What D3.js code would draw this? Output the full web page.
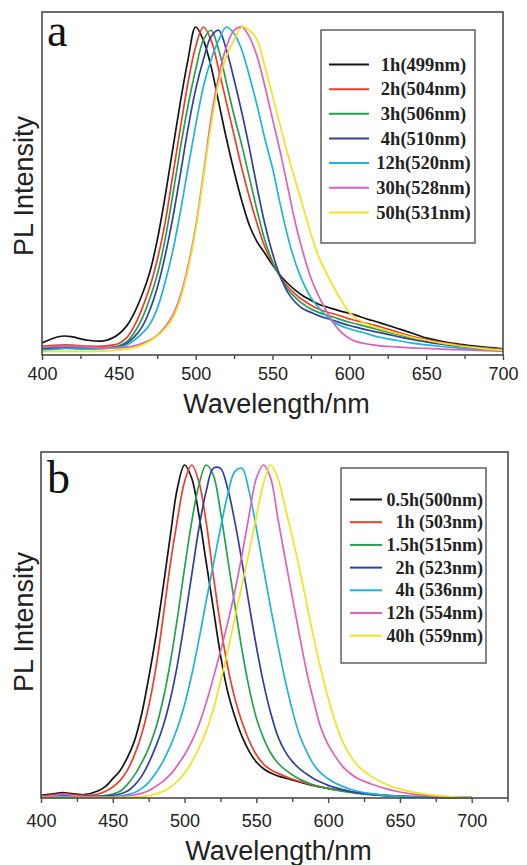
<!DOCTYPE html>
<html>
<head>
<meta charset="utf-8">
<script src="https://cdn.jsdelivr.net/npm/d3@7"></script>
<style>
  body { margin: 0; background: #fff; }
  svg { display: block; }
  .tick text { font-family: "Liberation Sans", Arial, sans-serif; font-size: 18px; fill: #222; }
  .axis-title { font-family: "Liberation Sans", Arial, sans-serif; font-size: 27px; fill: #222; }
  .panel-tag { font-family: "Liberation Serif", "Times New Roman", serif; font-size: 46px; fill: #111; }
  .legend text { font-family: "Liberation Serif", "Times New Roman", serif; font-weight: bold; fill: #222; }
</style>
</head>
<body>
<svg id="chart" width="527" height="865"></svg>
<script>
// wavelength grid (nm) shared by every spectrum below
const wavelengths = [400, 410, 415, 420, 430, 440, 445, 450, 455, 460,
  465, 470, 475, 480, 485, 490, 495, 500, 505, 510,
  515, 520, 525, 530, 535, 540, 545, 550, 555, 560,
  565, 570, 575, 580, 585, 590, 595, 600, 605, 610,
  615, 620, 630, 640, 650, 660, 670, 680, 690, 700];

// panel a - normalised PL intensity
const a1h = [0.037, 0.055, 0.058, 0.055, 0.045, 0.043, 0.05, 0.064, 0.088, 0.128,
  0.182, 0.25, 0.35, 0.48, 0.625, 0.77, 0.9, 1.0, 0.96, 0.88,
  0.77, 0.66, 0.56, 0.47, 0.395, 0.345, 0.31, 0.275, 0.243, 0.218,
  0.197, 0.18, 0.167, 0.155, 0.147, 0.14, 0.133, 0.127, 0.12, 0.112,
  0.105, 0.098, 0.083, 0.068, 0.052, 0.042, 0.034, 0.028, 0.023, 0.019];
const a2h = [0.027, 0.03, 0.031, 0.03, 0.027, 0.027, 0.03, 0.035, 0.052, 0.088,
  0.14, 0.205, 0.29, 0.4, 0.545, 0.69, 0.83, 0.94, 1.0, 0.96,
  0.87, 0.77, 0.67, 0.57, 0.48, 0.4, 0.33, 0.28, 0.24, 0.208,
  0.185, 0.167, 0.152, 0.14, 0.132, 0.125, 0.118, 0.11, 0.104, 0.098,
  0.092, 0.086, 0.072, 0.058, 0.047, 0.038, 0.031, 0.025, 0.021, 0.017];
const a3h = [0.02, 0.025, 0.027, 0.025, 0.022, 0.022, 0.024, 0.028, 0.04, 0.068,
  0.11, 0.17, 0.245, 0.35, 0.485, 0.63, 0.76, 0.87, 0.96, 0.99,
  0.93, 0.83, 0.73, 0.64, 0.54, 0.44, 0.35, 0.285, 0.238, 0.2,
  0.175, 0.155, 0.14, 0.13, 0.122, 0.115, 0.107, 0.1, 0.094, 0.088,
  0.082, 0.076, 0.064, 0.053, 0.043, 0.035, 0.029, 0.024, 0.02, 0.016];
const a4h = [0.018, 0.021, 0.022, 0.021, 0.019, 0.02, 0.022, 0.025, 0.035, 0.055,
  0.085, 0.135, 0.205, 0.3, 0.415, 0.55, 0.69, 0.81, 0.9, 0.97,
  0.99, 0.93, 0.84, 0.74, 0.63, 0.51, 0.4, 0.31, 0.24, 0.19,
  0.16, 0.14, 0.13, 0.12, 0.112, 0.105, 0.097, 0.09, 0.084, 0.078,
  0.073, 0.068, 0.058, 0.048, 0.04, 0.033, 0.027, 0.022, 0.018, 0.015];
const a12h = [0.015, 0.018, 0.02, 0.019, 0.018, 0.02, 0.022, 0.024, 0.03, 0.045,
  0.065, 0.092, 0.142, 0.22, 0.315, 0.435, 0.57, 0.7, 0.818, 0.9,
  0.96, 1.0, 0.98, 0.93, 0.85, 0.76, 0.66, 0.57, 0.46, 0.36,
  0.28, 0.22, 0.175, 0.145, 0.12, 0.1, 0.088, 0.08, 0.073, 0.067,
  0.06, 0.054, 0.045, 0.037, 0.031, 0.026, 0.022, 0.018, 0.015, 0.012];
const a30h = [0.025, 0.026, 0.027, 0.026, 0.024, 0.022, 0.022, 0.022, 0.024, 0.028,
  0.035, 0.045, 0.06, 0.085, 0.12, 0.18, 0.27, 0.39, 0.55, 0.72,
  0.85, 0.94, 0.99, 1.0, 0.97, 0.91, 0.82, 0.72, 0.62, 0.51,
  0.4, 0.31, 0.235, 0.18, 0.135, 0.095, 0.068, 0.05, 0.04, 0.035,
  0.031, 0.028, 0.025, 0.022, 0.02, 0.018, 0.016, 0.015, 0.013, 0.012];
const a50h = [0.01, 0.011, 0.011, 0.011, 0.011, 0.012, 0.013, 0.015, 0.018, 0.022,
  0.03, 0.042, 0.058, 0.08, 0.112, 0.17, 0.26, 0.38, 0.54, 0.7,
  0.83, 0.91, 0.96, 1.0, 0.99, 0.96, 0.88, 0.79, 0.7, 0.61,
  0.53, 0.45, 0.37, 0.3, 0.25, 0.205, 0.165, 0.13, 0.11, 0.097,
  0.088, 0.08, 0.067, 0.055, 0.045, 0.036, 0.029, 0.023, 0.018, 0.015];

// panel b
const b05h = [0.008, 0.013, 0.016, 0.014, 0.01, 0.022, 0.035, 0.058, 0.082, 0.12,
  0.17, 0.25, 0.36, 0.485, 0.63, 0.785, 0.93, 1.0, 0.96, 0.85,
  0.71, 0.57, 0.43, 0.32, 0.245, 0.185, 0.14, 0.108, 0.088, 0.075,
  0.066, 0.06, 0.054, 0.048, 0.042, 0.037, 0.033, 0.029, 0.025, 0.022,
  0.019, 0.016, 0.012, 0.008, 0.006, 0.004, 0.003, 0.002, 0.001, 0.001];
const b1h = [0.006, 0.01, 0.012, 0.011, 0.008, 0.012, 0.02, 0.033, 0.052, 0.082,
  0.128, 0.19, 0.275, 0.39, 0.54, 0.7, 0.835, 0.95, 1.0, 0.95,
  0.83, 0.67, 0.52, 0.395, 0.3, 0.228, 0.172, 0.13, 0.102, 0.085,
  0.074, 0.065, 0.057, 0.05, 0.044, 0.038, 0.033, 0.029, 0.025, 0.022,
  0.019, 0.016, 0.011, 0.008, 0.005, 0.004, 0.003, 0.002, 0.001, 0.001];
const b15h = [0.004, 0.007, 0.008, 0.007, 0.005, 0.006, 0.008, 0.012, 0.02, 0.04,
  0.068, 0.105, 0.15, 0.21, 0.295, 0.405, 0.54, 0.69, 0.83, 0.94,
  1.0, 0.97, 0.86, 0.72, 0.58, 0.445, 0.33, 0.24, 0.18, 0.135,
  0.105, 0.085, 0.07, 0.057, 0.047, 0.039, 0.033, 0.028, 0.024, 0.02,
  0.017, 0.014, 0.01, 0.007, 0.005, 0.003, 0.002, 0.002, 0.001, 0.001];
const b2h = [0.005, 0.007, 0.008, 0.007, 0.005, 0.005, 0.006, 0.008, 0.012, 0.02,
  0.038, 0.065, 0.105, 0.155, 0.215, 0.295, 0.4, 0.53, 0.67, 0.81,
  0.92, 0.99, 0.99, 0.93, 0.83, 0.71, 0.58, 0.455, 0.345, 0.255,
  0.185, 0.14, 0.11, 0.088, 0.072, 0.058, 0.047, 0.038, 0.031, 0.025,
  0.02, 0.016, 0.011, 0.007, 0.005, 0.003, 0.002, 0.002, 0.001, 0.001];
const b4h = [0.003, 0.004, 0.005, 0.004, 0.003, 0.003, 0.003, 0.004, 0.006, 0.01,
  0.016, 0.028, 0.047, 0.075, 0.11, 0.155, 0.21, 0.28, 0.37, 0.475,
  0.59, 0.7, 0.81, 0.91, 0.98, 0.99, 0.92, 0.81, 0.69, 0.57,
  0.46, 0.355, 0.265, 0.19, 0.14, 0.1, 0.075, 0.058, 0.045, 0.035,
  0.027, 0.021, 0.013, 0.008, 0.005, 0.003, 0.002, 0.001, 0.001, 0.001];
const b12h = [0.004, 0.008, 0.012, 0.009, 0.004, 0.003, 0.003, 0.003, 0.004, 0.006,
  0.009, 0.014, 0.022, 0.035, 0.05, 0.07, 0.098, 0.13, 0.17, 0.22,
  0.285, 0.36, 0.44, 0.525, 0.62, 0.73, 0.85, 0.96, 1.0, 0.96,
  0.84, 0.72, 0.605, 0.49, 0.38, 0.29, 0.21, 0.16, 0.125, 0.095,
  0.075, 0.06, 0.042, 0.028, 0.018, 0.011, 0.007, 0.004, 0.002, 0.001];
const b40h = [0.001, 0.001, 0.001, 0.001, 0.001, 0.001, 0.001, 0.001, 0.002, 0.002,
  0.003, 0.004, 0.007, 0.012, 0.02, 0.032, 0.05, 0.075, 0.108, 0.15,
  0.2, 0.265, 0.35, 0.44, 0.54, 0.64, 0.74, 0.845, 0.945, 1.0,
  0.96, 0.875, 0.785, 0.69, 0.585, 0.48, 0.385, 0.3, 0.228, 0.17,
  0.13, 0.1, 0.065, 0.042, 0.027, 0.017, 0.01, 0.006, 0.003, 0.002];

const labelsA = ["1h(499nm)", "2h(504nm)", "3h(506nm)", "4h(510nm)", "12h(520nm)", "30h(528nm)", "50h(531nm)"];
const labelsB = ["0.5h(500nm)", "1h (503nm)", "1.5h(515nm)", "2h (523nm)", "4h (536nm)", "12h (554nm)", "40h (559nm)"];
const ticksA = [400, 425, 450, 475, 500, 525, 550, 575, 600, 625, 650, 675, 700];
const ticksB = [400, 425, 450, 475, 500, 525, 550, 575, 600, 625, 650, 675, 700, 725];

const colors = ["#141414", "#f03c2b", "#22a24c", "#30409e", "#1eb4d8", "#e060b6", "#f2e31a"];

const panels = [
  {
    tag: "a", series: [a1h, a2h, a3h, a4h, a12h, a30h, a50h], labels: labelsA, ticks: ticksA,
    xDomain: [400, 700], left: 42, right: 503, top: 12, bottom: 355, peak: 27,
    tickLabelY: 25, titleY: 413, yTitleY: 186, tagX: 47, tagY: 46,
    legend: { x: 321, y: 30, w: 154, h: 213, x1: 329, x2: 369, row0: 64.5, dy: 24.65,
      anchor: "middle", tx: 423.5, size: 18.5 }
  },
  {
    tag: "b", series: [b05h, b1h, b15h, b2h, b4h, b12h, b40h], labels: labelsB, ticks: ticksB,
    xDomain: [400, 725.3], left: 41, right: 508, top: 452, bottom: 798, peak: 465,
    tickLabelY: 29, titleY: 860, yTitleY: 622, tagX: 47, tagY: 493,
    legend: { x: 341, y: 468, w: 145, h: 195, x1: 350, x2: 382, row0: 499.5, dy: 22.7,
      anchor: "end", tx: 483, size: 18 }
  }
];

const svg = d3.select("#chart");
svg.append("rect").attr("width", 527).attr("height", 865).attr("fill", "#fff");

panels.forEach(drawPanel);

function drawPanel(p) {
  const x = d3.scaleLinear().domain(p.xDomain).range([p.left, p.right]);
  const y = d3.scaleLinear().domain([0, 1]).range([p.bottom, p.peak]);
  const g = svg.append("g");

  const line = d3.line()
    .x((d, i) => x(wavelengths[i]))
    .y((d) => y(d))
    .curve(d3.curveCatmullRom.alpha(0.5));

  g.selectAll(".curve")
    .data(p.series)
    .join("path")
    .attr("class", "curve")
    .attr("fill", "none")
    .attr("stroke", (d, i) => colors[i])
    .attr("stroke-width", 1.7)
    .attr("d", line);

  // plot frame
  g.append("rect")
    .attr("x", p.left)
    .attr("y", p.top)
    .attr("width", p.right - p.left)
    .attr("height", p.bottom - p.top)
    .attr("fill", "none")
    .attr("stroke", "#4a4a4a")
    .attr("stroke-width", 1.6);

  const xAxis = g.append("g")
    .attr("transform", "translate(0," + p.bottom + ")")
    .call(d3.axisBottom(x).tickValues(p.ticks).tickSizeOuter(0)
      .tickFormat((d) => (d % 50 === 0 && d <= 700 ? d : "")));
  xAxis.select(".domain").remove();
  xAxis.selectAll(".tick line")
    .attr("stroke", "#4a4a4a")
    .attr("stroke-width", 1.4)
    .attr("y2", (d) => (d % 50 === 0 ? 5 : 4));
  xAxis.selectAll(".tick text")
    .attr("y", p.tickLabelY)
    .attr("dy", 0);

  g.append("text")
    .attr("class", "axis-title")
    .attr("x", (p.left + p.right) / 2 + 4)
    .attr("y", p.titleY)
    .attr("text-anchor", "middle")
    .text("Wavelength/nm");

  g.append("text")
    .attr("class", "axis-title")
    .attr("transform", "translate(33," + p.yTitleY + ") rotate(-90)")
    .attr("text-anchor", "middle")
    .text("PL Intensity");

  g.append("text")
    .attr("class", "panel-tag")
    .attr("x", p.tagX)
    .attr("y", p.tagY)
    .text(p.tag);

  // legend
  const L = p.legend;
  const lg = g.append("g").attr("class", "legend");
  lg.append("rect")
    .attr("x", L.x).attr("y", L.y)
    .attr("width", L.w).attr("height", L.h)
    .attr("fill", "#fff")
    .attr("stroke", "#555")
    .attr("stroke-width", 1.4);

  const rows = lg.selectAll(".row")
    .data(p.labels)
    .join("g")
    .attr("class", "row")
    .attr("transform", (d, i) => "translate(0," + (L.row0 + i * L.dy) + ")");
  rows.append("line")
    .attr("x1", L.x1).attr("x2", L.x2)
    .attr("stroke", (d, i) => colors[i])
    .attr("stroke-width", 2);
  rows.append("text")
    .attr("x", L.tx)
    .attr("dy", "0.34em")
    .attr("text-anchor", L.anchor)
    .style("font-size", L.size + "px")
    .style("white-space", "pre")
    .text((d) => d);
}
</script>
</body>
</html>
